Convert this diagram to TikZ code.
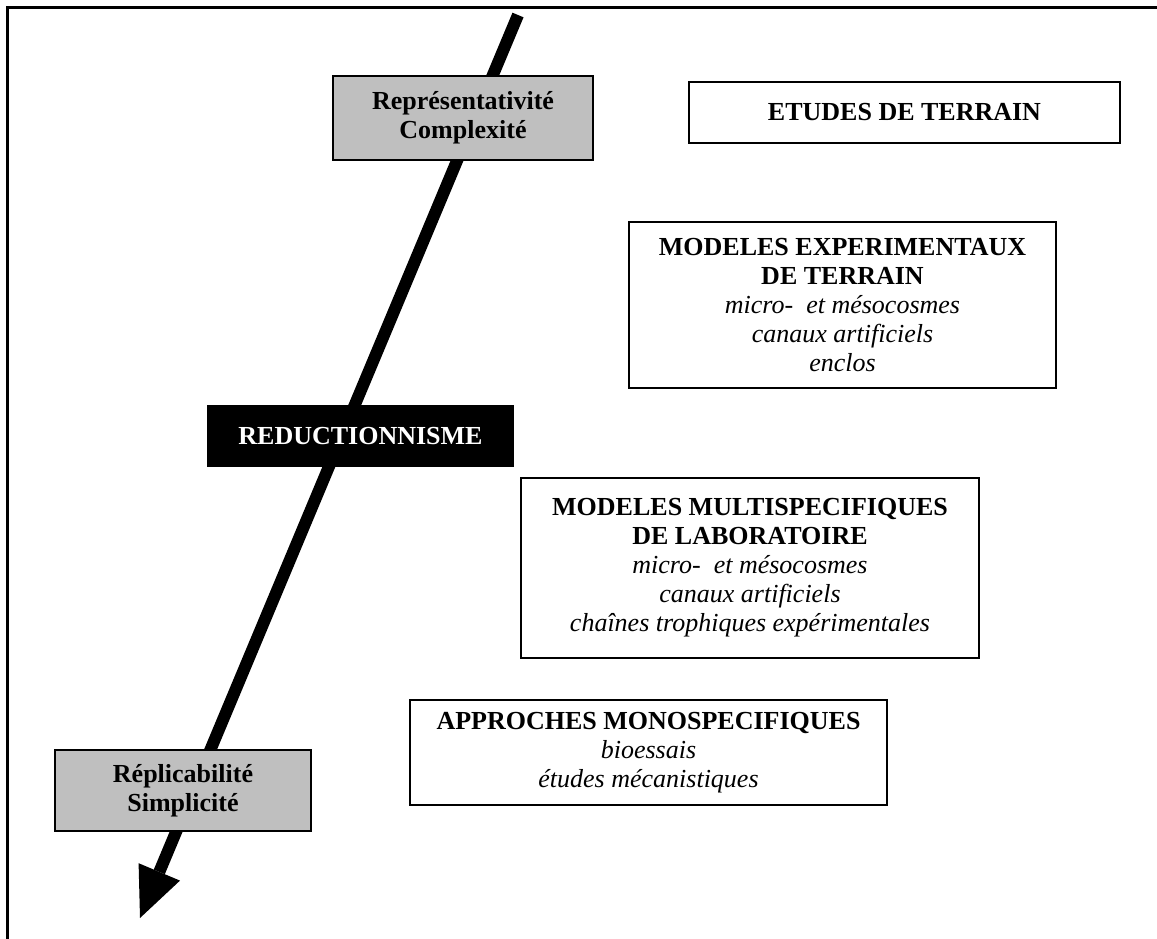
\documentclass[tikz,border=0pt]{standalone}
\usepackage{fontspec}
\setmainfont{Liberation Serif}
\newcommand\subline[1]{{\mdseries\itshape #1}}
\begin{document}
\begin{tikzpicture}[x=1pt,y=-1pt,
  box/.style={draw=black, line width=1.8pt, fill=white, align=center,
    inner sep=0pt, font=\fontsize{26}{29}\selectfont\bfseries},
  graybox/.style={box, fill=black!25},
  blackbox/.style={box, fill=black, text=white},
  frameline/.style={line width=3pt, black},
  bigarrow/.style={line width=12pt, black}]
\useasboundingbox (0,0) rectangle (1157,939);

% outer frame (top and left sides)
\coordinate (ftl) at (7,8);
\coordinate (ftr) at (1160,8);
\coordinate (fbl) at (7,942);
\draw[frameline] (ftr) -- (ftl) -- (fbl);

% the thick reduction arrow
\coordinate (astart) at (518,15);
\coordinate (atip) at (140,918);
\coordinate (abase) at (159.3,871.9);
\coordinate (ac1) at (180.0,880.6);
\coordinate (ac2) at (138.6,863.2);
\draw[bigarrow] (astart) -- (abase);
\fill (ac1) -- (atip) -- (ac2) -- cycle;

% boxes
\node[graybox, minimum width=260, minimum height=84] (repr) at (463,118)
  {Représentativité\\Complexité};
\node[box, minimum width=431, minimum height=61] (etudes) at (904.5,112.5)
  {ETUDES DE TERRAIN};
\node[box, minimum width=427, minimum height=166] (modexp) at (842.5,305)
  {MODELES EXPERIMENTAUX\\DE TERRAIN\\\subline{micro-\ \ et mésocosmes}\\
   \subline{canaux artificiels}\\\subline{enclos}};
\node[blackbox, minimum width=305, minimum height=60] (reduc) at (360.5,436)
  {REDUCTIONNISME};
\node[box, minimum width=458, minimum height=180] (multi) at (750,568)
  {MODELES MULTISPECIFIQUES\\DE LABORATOIRE\\\subline{micro-\ \ et mésocosmes}\\
   \subline{canaux artificiels}\\\subline{chaînes trophiques expérimentales}};
\node[box, minimum width=477, minimum height=105] (appro) at (648.5,752.5)
  {APPROCHES MONOSPECIFIQUES\\\subline{bioessais}\\\subline{études mécanistiques}};
\node[graybox, minimum width=256, minimum height=81] (repl) at (183,790.5)
  {Réplicabilité\\Simplicité};
\end{tikzpicture}
\end{document}
